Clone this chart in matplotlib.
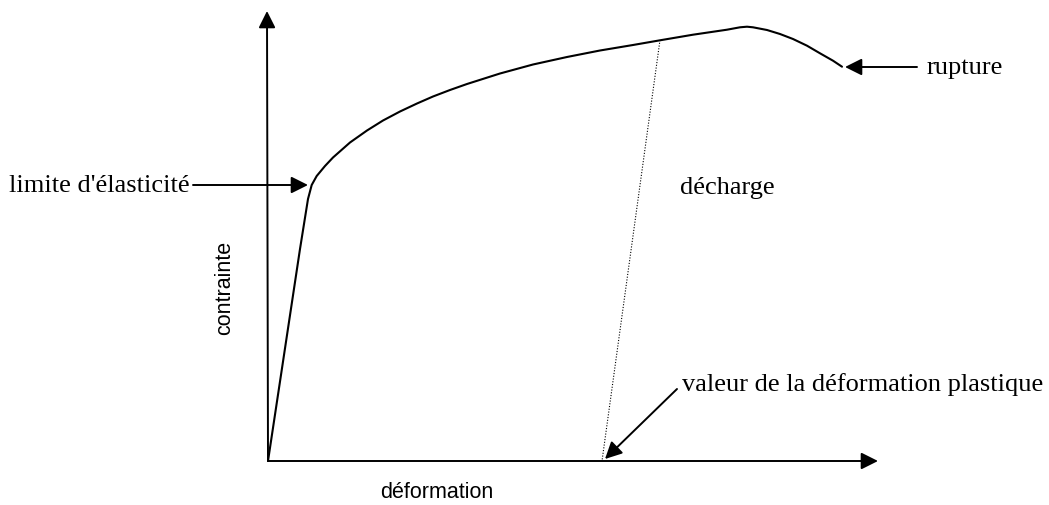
import matplotlib.pyplot as plt

# courbe contrainte-deformation (unites arbitraires, origine au coin des axes)
strain = [0, 32, 40, 43.7, 48.7, 57, 65, 82, 99, 115, 132, 149, 165, 182, 199,
          232, 265, 299, 332, 365, 392, 425, 459, 472, 479, 485, 499, 512, 525,
          539, 552, 565, 574]
stress = [0, 212, 262, 276, 285, 295, 303.5, 318.5, 330.5, 340.5, 349.5, 357.5,
          364.5, 371, 377, 387.5, 396.5, 404, 410.5, 416, 420.7, 426.3, 431.3,
          433.7, 434.3, 433.7, 431, 427, 422, 415.3, 407.7, 400.3, 394.3]

# droite de decharge
unload_strain = [392, 334]
unload_stress = [421, 0]

x_max = 610
y_max = 450

serif = ['Liberation Serif', 'DejaVu Serif']
sans = ['Liberation Sans', 'DejaVu Sans']

fig = plt.figure(figsize=(10.49, 5.06), dpi=100)
ax = fig.add_axes([0, 0, 1, 1])
ax.set_xlim(-268, 781)
ax.set_ylim(-44, 462)
ax.axis('off')

arrow = dict(arrowstyle='-|>,head_length=0.6,head_width=0.3', mutation_scale=17,
             color='black', lw=1.4, shrinkA=0, shrinkB=0)

# axes
ax.annotate('', xy=(x_max, 0), xytext=(0, 0), arrowprops=arrow)
ax.annotate('', xy=(-1, y_max), xytext=(0, 0), arrowprops=arrow)

ax.plot(strain, stress, color='black', lw=1.5, solid_capstyle='round',
        solid_joinstyle='round')
ax.plot(unload_strain, unload_stress, color='black', lw=0.8, ls=(0, (1, 1.5)))

# annotations
ax.text(-78, 276, "limite d'élasticité", family=serif, fontsize=19, ha='right', va='center')
ax.annotate('', xy=(40, 276), xytext=(-75, 276), arrowprops=arrow)

ax.text(659, 394, 'rupture', family=serif, fontsize=19, ha='left', va='center')
ax.annotate('', xy=(577, 394), xytext=(649, 394), arrowprops=arrow)

ax.text(412, 274, 'décharge', family=serif, fontsize=19, ha='left', va='center')

ax.text(414, 77, 'valeur de la déformation plastique', family=serif, fontsize=19,
        ha='left', va='center')
ax.annotate('', xy=(337, 2), xytext=(409, 72), arrowprops=arrow)

ax.text(-43, 174, 'contrainte', family=sans, fontsize=15.5, rotation=90, ha='center', va='center')
ax.text(169, -31, 'déformation', family=sans, fontsize=15.5, ha='center', va='center')

fig.savefig('out.png', dpi=100, facecolor='white')
